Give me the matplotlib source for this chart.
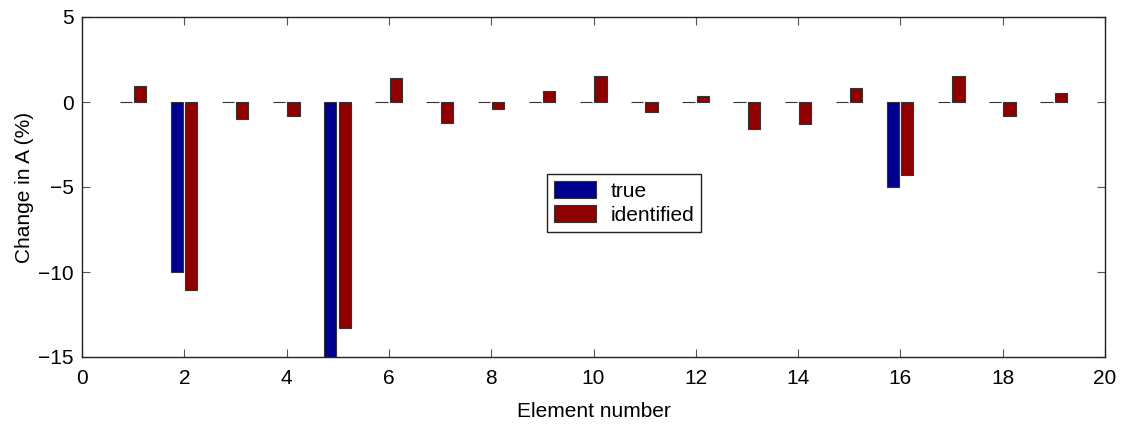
import matplotlib.pyplot as plt
import numpy as np

plt.rcParams['font.family'] = ['Liberation Sans', 'DejaVu Sans']

elements = np.arange(1, 20)
true_change = [0, -10, 0, 0, -15, 0, 0, 0, 0, 0, 0, 0, 0, 0, 0, -5, 0, 0, 0]
identified = [0.95, -11.05, -1.0, -0.82, -13.3, 1.43, -1.23, -0.43, 0.65, 1.53,
              -0.59, 0.34, -1.6, -1.27, 0.8, -4.29, 1.55, -0.82, 0.51]

fig = plt.figure(figsize=(11.29, 4.30), dpi=100)
ax = fig.add_axes([82/1129, 73/430, 1023/1129, 340/430])

w = 0.24
ax.bar(elements - 0.145, true_change, w, color=(0, 0, 0.56),
       edgecolor='#333333', linewidth=0.8, label='true')
ax.bar(elements + 0.135, identified, w, color=(0.56, 0, 0),
       edgecolor='#333333', linewidth=0.8, label='identified')

ax.set_xlim(0, 20)
ax.set_ylim(-15, 5)
ax.set_xticks(range(0, 21, 2))
ax.set_yticks([-15, -10, -5, 0, 5])
ax.tick_params(direction='in', top=True, right=True, length=6,
               labelsize=15, color='#555555')
ax.tick_params(axis='x', pad=9)
ax.tick_params(axis='y', pad=6)
for s in ax.spines.values():
    s.set_linewidth(1.0)
    s.set_color('#222222')

ax.set_xlabel('Element number', fontsize=15, labelpad=10)
ax.set_ylabel('Change in A (%)', fontsize=15, labelpad=3)

leg = ax.legend(loc='center', bbox_to_anchor=(0.53, 0.453), fontsize=15,
                fancybox=False, framealpha=1, edgecolor='#222222',
                handlelength=2.0, handleheight=0.85, borderpad=0.35,
                labelspacing=0.2, handletextpad=0.7)
leg.get_frame().set_linewidth(1.0)

fig.savefig('out.png', dpi=100)
